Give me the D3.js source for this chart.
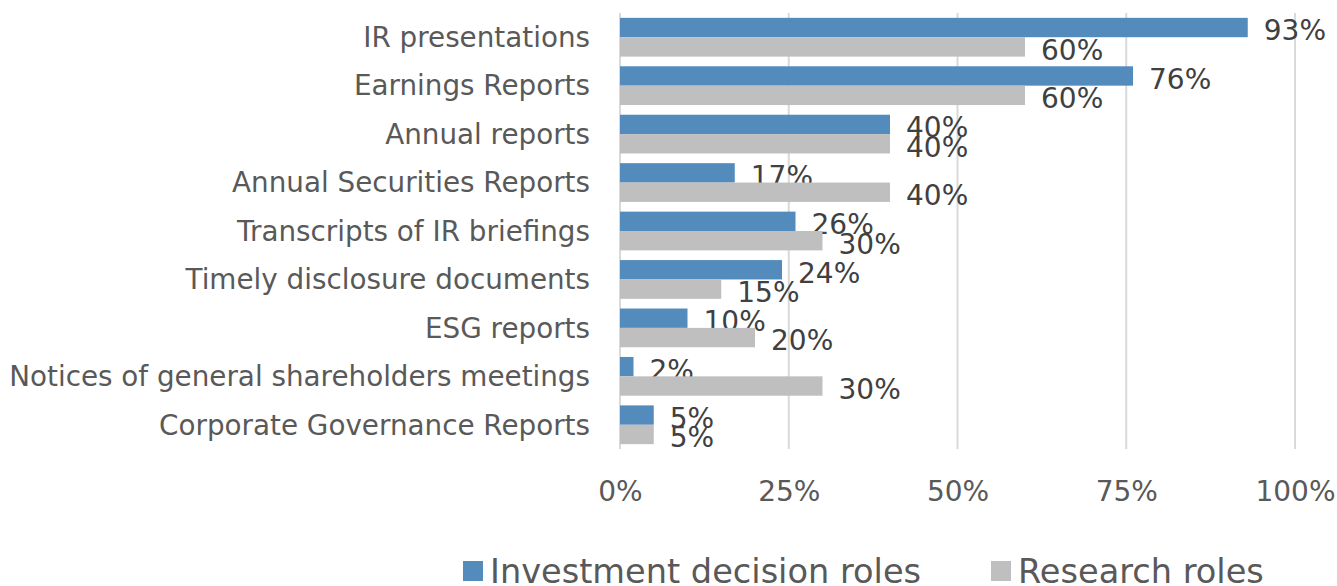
<!DOCTYPE html>
<html>
<head>
<meta charset="utf-8">
<script src="https://cdn.jsdelivr.net/npm/d3@7"></script>
<style>
  html, body { margin: 0; padding: 0; background: #ffffff; }
  svg { display: block; font-family: "DejaVu Sans", Verdana, sans-serif; }
</style>
</head>
<body>
<svg id="chart" width="1337" height="586"></svg>
<script>
// Documents used, by role (share of respondents)
const categories = [
  "IR presentations",
  "Earnings Reports",
  "Annual reports",
  "Annual Securities Reports",
  "Transcripts of IR briefings",
  "Timely disclosure documents",
  "ESG reports",
  "Notices of general shareholders meetings",
  "Corporate Governance Reports"
];
const investmentDecision = [93, 76, 40, 17, 26, 24, 10, 2, 5];
const research = [60, 60, 40, 40, 30, 15, 20, 30, 5];
const seriesNames = ["Investment decision roles", "Research roles"];
const tickValues = [0, 25, 50, 75, 100];

const colors = ["#548bbd", "#bfbfbf"];

const svg = d3.select("#chart");
const plotLeft = 620, plotRight = 1295, plotTop = 13, plotBottom = 449;

const x = d3.scaleLinear().domain([0, 100]).range([plotLeft, plotRight]);
const y = d3.scaleBand().domain(categories).range([plotTop, plotBottom])
  .paddingInner(0.2).paddingOuter(0.1);
const inner = d3.scaleBand().domain([0, 1]).range([0, y.bandwidth()]);

// vertical gridlines
svg.append("g").selectAll("line").data(tickValues).join("line")
  .attr("x1", d => x(d)).attr("x2", d => x(d))
  .attr("y1", plotTop).attr("y2", plotBottom)
  .attr("stroke", "#d9d9d9").attr("stroke-width", 2);

// x axis tick labels
const xAxis = d3.axisBottom(x).tickValues(tickValues).tickFormat(d => d + "%").tickSize(0);
const gx = svg.append("g").attr("transform", `translate(0,${plotBottom})`).call(xAxis);
gx.select(".domain").remove();
gx.selectAll("text")
  .attr("y", 52).attr("dy", 0)
  .attr("font-size", 28).attr("fill", "#595959")
  .attr("font-family", "DejaVu Sans, Verdana, sans-serif");

// category labels
const yAxis = d3.axisLeft(y).tickSize(0).tickPadding(0);
const gy = svg.append("g").attr("transform", `translate(590,0)`).call(yAxis);
gy.select(".domain").remove();
gy.selectAll("text")
  .attr("x", 0).attr("dy", "0.35em")
  .attr("font-size", 27.8).attr("fill", "#595959")
  .attr("font-family", "DejaVu Sans, Verdana, sans-serif");

// bars and value labels
const series = [investmentDecision, research];
series.forEach((values, s) => {
  const rows = categories.map((c, i) => ({ c, v: values[i] }));
  const g = svg.append("g");
  g.selectAll("rect").data(rows).join("rect")
    .attr("x", x(0))
    .attr("y", d => y(d.c) + inner(s))
    .attr("width", d => x(d.v) - x(0))
    .attr("height", inner.bandwidth())
    .attr("fill", colors[s]);
  g.selectAll("text").data(rows).join("text")
    .attr("x", d => x(d.v) + 16)
    .attr("y", d => y(d.c) + inner(s) + inner.bandwidth() / 2)
    .attr("dy", "0.46em")
    .attr("font-size", 28).attr("fill", "#404040")
    .text(d => d.v + "%");
});

// legend
const legendPos = [463, 991];
const legend = svg.append("g");
seriesNames.forEach((name, s) => {
  legend.append("rect")
    .attr("x", legendPos[s]).attr("y", 561)
    .attr("width", 20).attr("height", 20)
    .attr("fill", colors[s]);
  legend.append("text")
    .attr("x", legendPos[s] + 27).attr("y", 583)
    .attr("font-size", 33.6).attr("fill", "#595959")
    .text(name);
});
</script>
</body>
</html>
